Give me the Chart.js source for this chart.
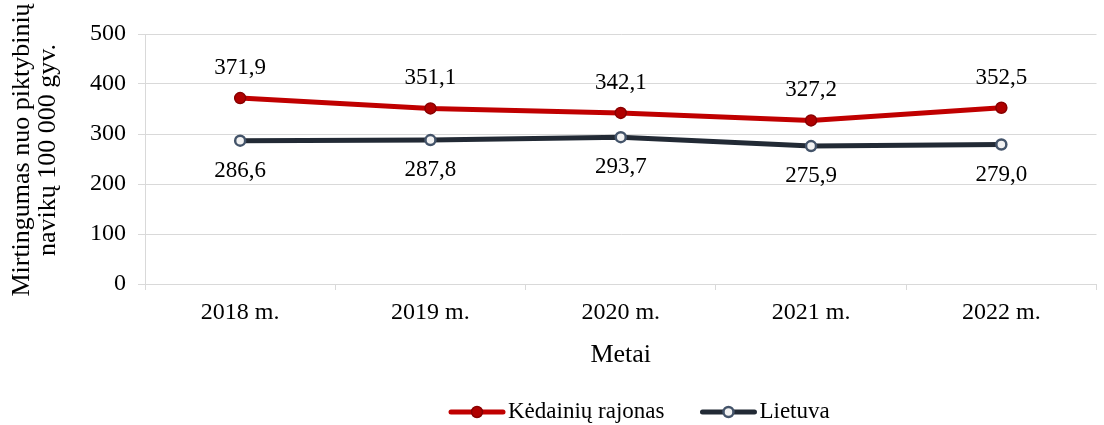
<!DOCTYPE html>
<html>
<head>
<meta charset="utf-8">
<script src="https://cdn.jsdelivr.net/npm/chart.js@4.4.1/dist/chart.umd.min.js"></script>
<style>
  html, body { margin: 0; padding: 0; background: #ffffff; }
  #wrap { width: 1104px; height: 425px; position: relative; }
</style>
</head>
<body>
<div id="wrap"><canvas id="chart"></canvas></div>
<script>
// Mortality from malignant tumours per 100 000 population
const years = ['2018 m.', '2019 m.', '2020 m.', '2021 m.', '2022 m.'];
const kedainiai = [371.9, 351.1, 342.1, 327.2, 352.5];
const lietuva = [286.6, 287.8, 293.7, 275.9, 279.0];
const seriesNames = ['Kėdainių rajonas', 'Lietuva'];
const yTicks = [0, 100, 200, 300, 400, 500];
const yTitle = ['Mirtingumas nuo piktybinių', 'navikų 100 000 gyv.'];
const xTitle = 'Metai';

const FONT = '"Liberation Serif", "Times New Roman", serif';
const GRID = '#d9d9d9';

const fmt = v => v.toFixed(1).replace('.', ',');

// Value labels: above the red series, below the national series
const valueLabels = {
  id: 'valueLabels',
  afterDatasetsDraw(chart) {
    const ctx = chart.ctx;
    ctx.save();
    ctx.font = '23px ' + FONT;
    ctx.fillStyle = '#000000';
    ctx.textAlign = 'center';
    ctx.textBaseline = 'middle';
    chart.data.datasets.forEach((ds, di) => {
      const meta = chart.getDatasetMeta(di);
      const off = ds.labelOffset;
      meta.data.forEach((pt, i) => {
        ctx.fillText(fmt(ds.data[i]), pt.x, pt.y + off);
      });
    });
    ctx.restore();
  }
};

// Two-line rotated title of the value axis
const valueAxisTitle = {
  id: 'valueAxisTitle',
  afterDraw(chart) {
    const ctx = chart.ctx;
    const area = chart.chartArea;
    const cy = (area.top + area.bottom) / 2 - 9;
    ctx.save();
    ctx.font = '26px ' + FONT;
    ctx.fillStyle = '#000000';
    ctx.textAlign = 'center';
    ctx.textBaseline = 'middle';
    yTitle.forEach((line, i) => {
      ctx.save();
      ctx.translate(22 + i * 26, cy);
      ctx.rotate(-Math.PI / 2);
      ctx.fillText(line, 0, 0);
      ctx.restore();
    });
    ctx.restore();
  }
};

// Legend: line sample with marker, followed by the series name
const lineLegend = {
  id: 'lineLegend',
  afterDraw(chart) {
    const ctx = chart.ctx;
    ctx.save();
    ctx.font = '23px ' + FONT;
    ctx.textBaseline = 'middle';
    ctx.textAlign = 'left';
    const y = 412;
    const sym = 56, gap = 3, spacing = 36;
    let x = 449;
    chart.data.datasets.forEach(ds => {
      ctx.strokeStyle = ds.borderColor;
      ctx.lineWidth = 5;
      ctx.lineCap = 'round';
      ctx.beginPath();
      ctx.moveTo(x + 2, y);
      ctx.lineTo(x + sym - 2, y);
      ctx.stroke();
      ctx.beginPath();
      ctx.arc(x + sym / 2, y, ds.pointRadius, 0, Math.PI * 2);
      ctx.fillStyle = ds.pointBackgroundColor;
      ctx.fill();
      ctx.lineWidth = ds.pointBorderWidth;
      ctx.strokeStyle = ds.pointBorderColor;
      ctx.stroke();
      ctx.fillStyle = '#000000';
      ctx.fillText(ds.label, x + sym + gap, y);
      x += sym + gap + ctx.measureText(ds.label).width + spacing;
    });
    ctx.restore();
  }
};

new Chart(document.getElementById('chart'), {
  type: 'line',
  data: {
    labels: years,
    datasets: [
      {
        label: seriesNames[0],
        data: kedainiai,
        borderColor: '#C00000',
        borderWidth: 5,
        pointRadius: 5.5,
        pointBackgroundColor: '#B00000',
        pointBorderColor: '#8A0000',
        pointBorderWidth: 1.5,
        tension: 0,
        labelOffset: -30
      },
      {
        label: seriesNames[1],
        data: lietuva,
        borderColor: '#222A35',
        borderWidth: 5,
        pointRadius: 5,
        pointBackgroundColor: '#F2F2F2',
        pointBorderColor: '#44546A',
        pointBorderWidth: 2.5,
        tension: 0,
        labelOffset: 30
      }
    ]
  },
  options: {
    responsive: true,
    maintainAspectRatio: false,
    animation: false,
    devicePixelRatio: 1,
    layout: { padding: { top: 34, right: 1, bottom: 41, left: 0 } },
    plugins: {
      legend: { display: false },
      tooltip: { enabled: false }
    },
    scales: {
      x: {
        type: 'category',
        offset: true,
        grid: {
          offset: true,
          drawOnChartArea: false,
          drawTicks: true,
          tickLength: 6,
          color: GRID
        },
        border: { display: true, color: GRID, width: 1 },
        ticks: {
          color: '#000000',
          font: { family: FONT, size: 24 },
          padding: 8,
          maxRotation: 0
        },
        title: {
          display: true,
          text: xTitle,
          color: '#000000',
          font: { family: FONT, size: 26 },
          padding: { top: 0, bottom: 13 }
        },
        afterFit(scale) { scale.height = 100; }
      },
      y: {
        min: 0,
        max: 500,
        afterBuildTicks(scale) { scale.ticks = yTicks.map(v => ({ value: v })); },
        grid: {
          color: GRID,
          lineWidth: 1,
          tickLength: 7
        },
        border: { display: true, color: GRID, width: 1 },
        ticks: {
          color: '#000000',
          font: { family: FONT, size: 24 },
          padding: 12
        },
        title: { display: false },
        afterFit(scale) { scale.width = 145; }
      }
    }
  },
  plugins: [valueLabels, valueAxisTitle, lineLegend]
});
</script>
</body>
</html>
